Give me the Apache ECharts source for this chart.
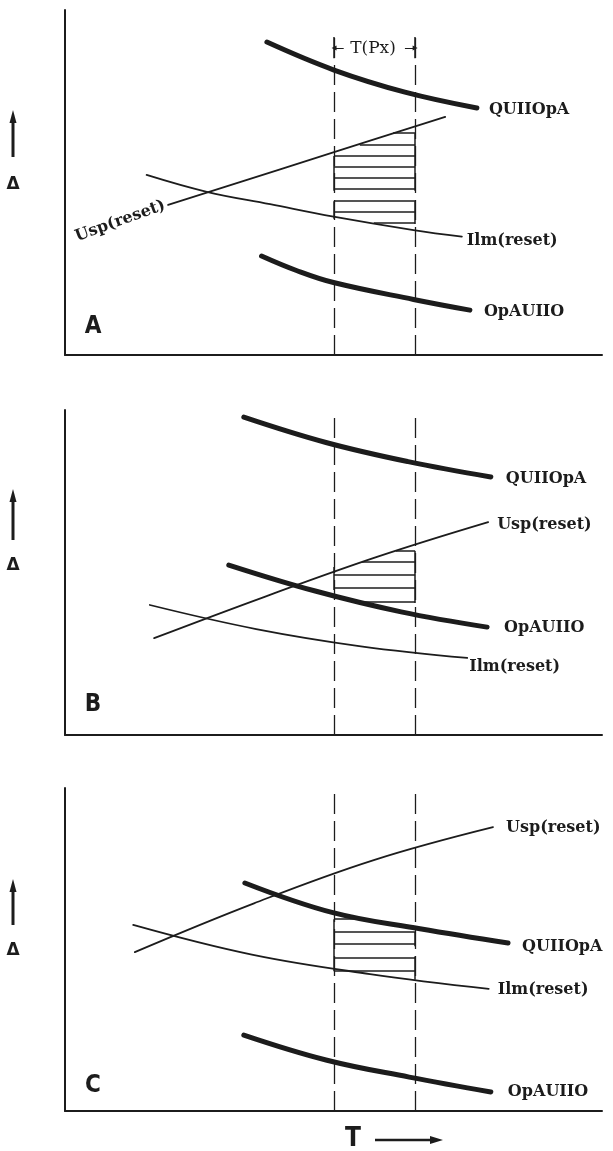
<!DOCTYPE html>
<html>
<head>
<meta charset="utf-8">
<title>Reset thresholds and T(Px) window</title>
<script src="https://cdn.jsdelivr.net/npm/echarts@6/dist/echarts.min.js"></script>
<style>
  html, body { margin: 0; padding: 0; background: #fff; }
  #chart { width: 613px; height: 1151px; }
</style>
</head>
<body>
<div id="chart"></div>
<script>
// schematic, arbitrary units: T runs 0-100 and delta runs 0-100 in every panel
const tpxBounds = [50.1, 65.2]
const dashTop = [92.2, 99.4, 99.4]

// panel A
const aQuiiopa = [[37.6, 90.7], [50.1, 82.6], [63.3, 76.2], [76.7, 71.6]]
const aUsp = [[19.2, 43.5], [50.1, 58.8], [70.8, 69.0]]
const aIlm = [[15.2, 52.2], [26.4, 47.3], [38.2, 43.7], [50.0, 40.1], [64.9, 36.2], [73.9, 34.3]]
const aOpauiio = [[36.6, 28.7], [43.1, 24.5], [50.0, 21.0], [64.9, 16.1], [75.4, 13.0]]
const aHatchY = [64.3, 60.9, 57.7, 54.5, 51.3, 48.1, 44.6, 41.4, 38.3]
const aHatchFrom = [61.1, 54.9, 50.1, 50.1, 50.1, 50.1, 50.1, 50.1, 57.5]
const aHatchTo = [65.2, 65.2, 65.2, 65.2, 65.2, 65.2, 65.2, 65.2, 65.2]
const aEdges = [[65.2, 64.3, 47.6], [65.2, 44.6, 38.0], [50.1, 57.7, 47.6], [50.1, 44.6, 39.5], [50.1, 92.2, 86.0], [65.2, 92.2, 86.0]]

// panel B
const bQuiiopa = [[33.3, 97.8], [48.6, 90.0], [63.9, 84.1], [79.3, 79.4]]
const bUsp = [[16.6, 29.8], [37.3, 42.6], [58.1, 54.8], [78.8, 65.5]]
const bOpauiio = [[30.5, 52.3], [46.6, 44.3], [62.6, 37.9], [78.6, 33.2]]
const bIlm = [[15.8, 40.0], [35.6, 32.6], [55.1, 27.3], [74.9, 23.7]]
const bHatchY = [56.6, 53.2, 49.2, 45.2, 40.9]
const bHatchFrom = [61.6, 55.3, 50.1, 50.1, 55.5]
const bHatchTo = [65.2, 65.2, 65.2, 65.2, 65.2]
const bEdges = [[65.2, 56.6, 40.6], [50.1, 51.7, 44.6]]

// panel C
const cUsp = [[13.0, 49.2], [35.2, 64.3], [57.5, 77.7], [79.7, 87.9]]
const cQuiiopa = [[33.5, 70.6], [49.9, 61.4], [66.1, 56.4], [82.5, 52.0]]
const cIlm = [[12.7, 57.6], [34.8, 48.4], [56.8, 42.4], [78.9, 37.8]]
const cOpauiio = [[33.3, 23.5], [48.6, 15.8], [64.1, 10.5], [79.3, 5.9]]
const cHatchY = [59.4, 55.4, 51.7, 47.4, 43.3]
const cHatchFrom = [50.1, 50.1, 50.1, 50.1, 50.1]
const cHatchTo = [55.5, 65.2, 65.2, 65.2, 65.2]
const cEdges = [[50.1, 59.4, 43.3], [65.2, 55.4, 51.0], [65.2, 47.8, 40.6]]

// T(Px) dimension arrows in panel A
const tpxLabelY = 89.0
const tpxArrowInner = [51.9, 63.3]

const ink = '#1c1c1c'
const chart = echarts.init(document.getElementById('chart'))

const labelFont = { fontFamily: 'DejaVu Serif', fontWeight: 'bold', fontSize: 16, color: ink }

const curve = (name, data, gi, thick, dist, dy) => ({
  type: 'line',
  name,
  data,
  xAxisIndex: gi,
  yAxisIndex: gi,
  smooth: 0.4,
  symbol: 'none',
  silent: true,
  animation: false,
  lineStyle: { width: thick ? 5 : 1.8, color: ink, cap: 'round' },
  endLabel: dist == null
    ? { show: false }
    : { show: true, formatter: name, distance: dist, offset: [0, dy], ...labelFont }
})

const segments = (gi, coords, style, extra) => ({
  type: 'lines',
  coordinateSystem: 'cartesian2d',
  xAxisIndex: gi,
  yAxisIndex: gi,
  polyline: false,
  silent: true,
  animation: false,
  lineStyle: { color: ink, opacity: 1, ...style },
  data: coords.map(c => ({ coords: c })),
  ...extra
})

const hatch = (gi, ys, from, to, edges) => {
  const coords = ys.map((y, i) => [[from[i], y], [to[i], y]])
  edges.forEach(e => coords.push([[e[0], e[1]], [e[0], e[2]]]))
  return segments(gi, coords, { width: 1.5 })
}

const dashes = gi => segments(gi, tpxBounds.map(x => [[x, 0], [x, dashTop[gi]]]),
  { width: 1.3, type: [20, 7] })

const grids = [
  { left: 65, top: 10, width: 537, height: 345 },
  { left: 65, top: 410, width: 537, height: 325 },
  { left: 65, top: 788, width: 537, height: 323 }
]

const axisBase = {
  type: 'value', min: 0, max: 100,
  axisLine: { show: true, onZero: false, lineStyle: { color: ink, width: 2 } },
  axisTick: { show: false },
  axisLabel: { show: false },
  splitLine: { show: false }
}

// left arrow + delta for each panel, panel letters, T axis caption
const sideMarks = [
  { top: 110, bottom: 157, delta: 185, letter: 'A', letterY: 327 },
  { top: 489, bottom: 540, delta: 566, letter: 'B', letterY: 705 },
  { top: 879, bottom: 925, delta: 951, letter: 'C', letterY: 1086 }
]
const graphic = []
sideMarks.forEach(m => {
  graphic.push(
    { type: 'line', shape: { x1: 13, y1: m.bottom, x2: 13, y2: m.top + 10 }, style: { stroke: ink, lineWidth: 3 } },
    { type: 'polygon', shape: { points: [[13, m.top], [9.5, m.top + 13], [16.5, m.top + 13]] }, style: { fill: ink } },
    { type: 'text', x: 13, y: m.delta, style: { text: 'Δ', font: 'bold 17px "DejaVu Sans"', align: 'center', verticalAlign: 'middle', fill: ink } },
    { type: 'text', x: 93, y: m.letterY, style: { text: m.letter, font: 'bold 24px "Liberation Sans Narrow", "DejaVu Sans Condensed", sans-serif', align: 'center', verticalAlign: 'middle', fill: ink } }
  )
})
graphic.push(
  { type: 'text', x: 373, y: 49, style: { text: 'T(Px)', font: '17px "DejaVu Serif"', align: 'center', verticalAlign: 'middle', fill: ink } },
  { type: 'text', x: 353, y: 1139, style: { text: 'T', font: 'bold 26px "Liberation Sans Narrow", "DejaVu Sans Condensed", sans-serif', align: 'center', verticalAlign: 'middle', fill: ink } },
  { type: 'line', shape: { x1: 375, y1: 1140, x2: 432, y2: 1140 }, style: { stroke: ink, lineWidth: 2.5 } },
  { type: 'polygon', shape: { points: [[443, 1140], [430, 1136], [430, 1144]] }, style: { fill: ink } }
)

const option = {
  backgroundColor: '#ffffff',
  animation: false,
  grid: grids,
  xAxis: grids.map((g, i) => ({ ...axisBase, gridIndex: i })),
  yAxis: grids.map((g, i) => ({ ...axisBase, gridIndex: i })),
  graphic,
  series: [
    // panel A
    dashes(0),
    hatch(0, aHatchY, aHatchFrom, aHatchTo, aEdges),
    segments(0, [[[tpxArrowInner[0], tpxLabelY], [tpxBounds[0], tpxLabelY]], [[tpxArrowInner[1], tpxLabelY], [tpxBounds[1], tpxLabelY]]],
      { width: 1.2 }, { symbol: ['none', 'triangle'], symbolSize: 5 }),
    curve('QUIIOpA', aQuiiopa, 0, true, 12, 2),
    curve('Usp(reset)', aUsp, 0, false, null, 0),
    curve('Ilm(reset)', aIlm, 0, false, 5, 4),
    curve('OpAUIIO', aOpauiio, 0, true, 14, 2),
    {
      type: 'scatter', xAxisIndex: 0, yAxisIndex: 0, silent: true, animation: false,
      symbolSize: 1, itemStyle: { color: 'transparent', opacity: 1 },
      data: [aUsp[0]],
      label: { show: true, formatter: 'Usp(reset)', position: 'left', distance: 3, rotate: 20, ...labelFont }
    },
    // panel B
    dashes(1),
    hatch(1, bHatchY, bHatchFrom, bHatchTo, bEdges),
    curve('QUIIOpA', bQuiiopa, 1, true, 15, 2),
    curve('Usp(reset)', bUsp, 1, false, 9, 3),
    curve('OpAUIIO', bOpauiio, 1, true, 17, 1),
    curve('Ilm(reset)', bIlm, 1, false, 2, 9),
    // panel C
    dashes(2),
    hatch(2, cHatchY, cHatchFrom, cHatchTo, cEdges),
    curve('Usp(reset)', cUsp, 2, false, 13, 1),
    curve('QUIIOpA', cQuiiopa, 2, true, 14, 4),
    curve('Ilm(reset)', cIlm, 2, false, 9, 1),
    curve('OpAUIIO', cOpauiio, 2, true, 17, 0)
  ]
}

chart.setOption(option)
</script>
</body>
</html>
